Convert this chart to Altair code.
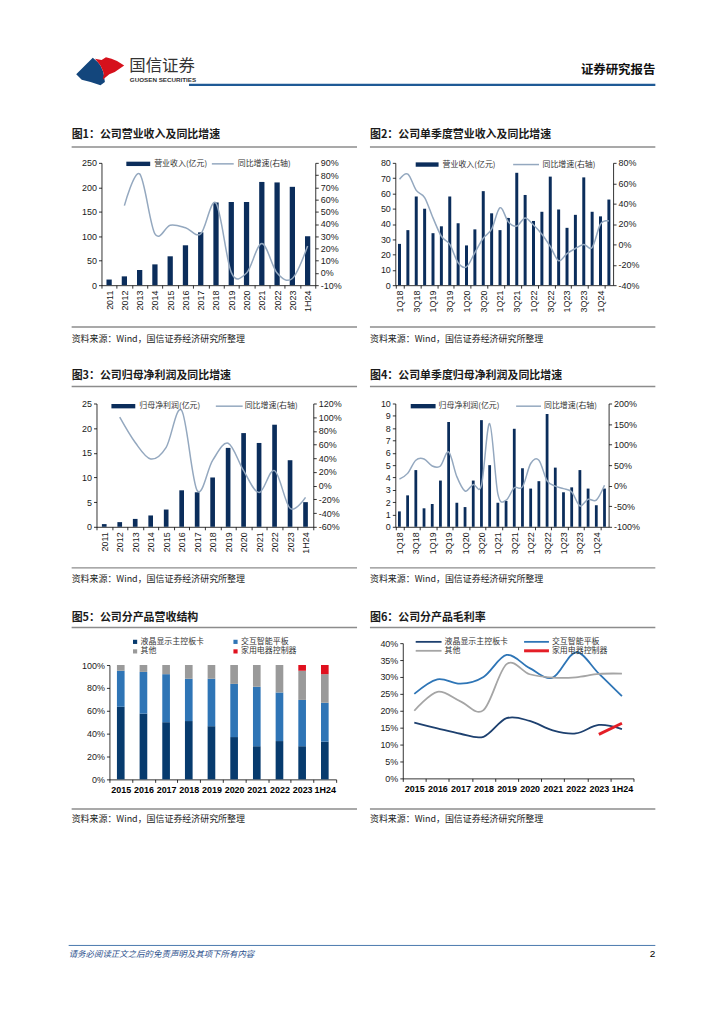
import altair as alt
import pandas as pd

# ---------------- data ----------------
years = ["2011", "2012", "2013", "2014", "2015", "2016", "2017", "2018", "2019", "2020", "2021", "2022", "2023", "1H24"]
revenue = [11.5, 18, 31, 42.5, 59, 81.5, 108, 169, 170, 170, 211, 210, 201, 100]
revenue_growth_years = ["2012", "2013", "2014", "2015", "2016", "2017", "2018", "2019", "2020", "2021", "2022", "2023", "1H24"]
revenue_growth = [55, 81, 32, 39, 37, 32, 57, 0.5, 0, 24, 0, -4.5, 22]

quarters = ["1Q18", "2Q18", "3Q18", "4Q18", "1Q19", "2Q19", "3Q19", "4Q19", "1Q20", "2Q20", "3Q20", "4Q20",
            "1Q21", "2Q21", "3Q21", "4Q21", "1Q22", "2Q22", "3Q22", "4Q22", "1Q23", "2Q23", "3Q23", "4Q23",
            "1Q24", "2Q24"]
quarter_labels = ["1Q18", "3Q18", "1Q19", "3Q19", "1Q20", "3Q20", "1Q21", "3Q21", "1Q22", "3Q22", "1Q23", "3Q23", "1Q24"]
q_revenue = [27, 36, 58, 50, 34, 38.5, 58, 40.5, 26, 36.5, 61.5, 47, 36, 44, 73.5, 59, 42, 48, 71, 49.5,
             37.5, 46, 70.5, 48, 45, 56]
q_revenue_growth = [64, 69, 53, 46, 26, 8, 0, -18, -22, -8, 6, 15, 36, 22, 18, 26, 19, 10, -2, -16,
                    -9, -4, 0, -3, 20, 23]

net_profit = [0.55, 0.95, 1.6, 2.3, 3.5, 7.4, 7.0, 10, 16, 19, 17, 20.7, 13.5, 5]
net_profit_growth_years = revenue_growth_years
net_profit_growth = [100, 63, 39, 56, 110, -7, 37, 62, 22, -10, 22, -33, -17]

q_profit = [1.25, 2.55, 4.6, 1.5, 1.85, 3.75, 8.5, 1.95, 1.6, 3.75, 8.65, 5.0, 1.95, 2.1, 7.95, 4.75,
            3.1, 3.7, 9.15, 4.8, 2.8, 3.2, 4.6, 3.1, 1.75, 3.1]
q_profit_growth = [16, 30, 62, 65, 48, 48, 82, 22, -13, 3, 1, 151, -20, -35, -5, -3, 54, 62, 12, -1,
                   -7, -15, -49, -33, -35, 1]

seg_years = ["2015", "2016", "2017", "2018", "2019", "2020", "2021", "2022", "2023", "1H24"]
seg_names = ["液晶显示主控板卡", "交互智能平板", "其他", "家用电器控制器"]
mix_lcd = [63.5, 57.5, 50, 51, 46.5, 37, 29, 33.5, 29, 33]
mix_panel = [31.5, 36.5, 42, 37, 41.5, 46.5, 52, 42.5, 40.5, 34]
mix_other = [5, 6, 8, 12, 12, 16.5, 19, 24, 25.5, 25]
mix_home = [0, 0, 0, 0, 0, 0, 0, 0, 5, 8]

gm_lcd = [16.5, 14.8, 13.2, 12.3, 17.8, 17.0, 14.2, 13.3, 15.8, 14.6]
gm_panel = [25.0, 29.3, 28.0, 30.0, 36.5, 32.6, 29.8, 37.3, 31.0, 24.3]
gm_other = [20.0, 25.6, 22.8, 20.2, 33.8, 30.8, 29.8, 29.9, 30.9, 31.0]
gm_home_years = ["2023", "1H24"]
gm_home = [13.0, 16.3]

titles = ["图1：公司营业收入及同比增速", "图2：公司单季度营业收入及同比增速",
          "图3：公司归母净利润及同比增速", "图4：公司单季度归母净利润及同比增速",
          "图5：公司分产品营收结构", "图6：公司分产品毛利率"]
source = "资料来源：Wind，国信证券经济研究所整理"

# ---------------- style ----------------
NAVY = "#0b2d5b"
LINEC = "#94a8bf"
CN = "Noto Sans CJK SC"
NUM = "Liberation Sans"
GRAYL = "#8c8c8c"
C5 = ["#073b6e", "#2f75b6", "#9a9a9a", "#e0101e"]
C6 = ["#1d406f", "#2e75b6", "#a5a5a5"]
RED6 = "#e41e26"

PW, PH = 708, 968  # whole page drawing area

ONE = pd.DataFrame({"k": [0]})


def T(x, y, s, size=9.0, color="#222", weight="normal", align="left", font=CN, italic=False):
    kw = dict(text=s, fontSize=size, color=color, fontWeight=weight, align=align, baseline="middle", font=font)
    if italic:
        kw["fontStyle"] = "italic"
    return alt.Chart(ONE).mark_text(**kw).encode(x=alt.value(x), y=alt.value(y))


def R(x1, x2, y, color, w):
    return alt.Chart(ONE).mark_rule(color=color, strokeWidth=w).encode(
        x=alt.value(x1), x2=alt.value(x2), y=alt.value(y))


def B(x1, x2, y1, y2, color):
    return alt.Chart(ONE).mark_rect(color=color).encode(
        x=alt.value(x1), x2=alt.value(x2), y=alt.value(y1), y2=alt.value(y2))


def ax(**kw):
    base = dict(title=None, grid=False, domainColor="#000", domainWidth=0.8, tickColor="#000", tickWidth=0.8,
                tickSize=3, labelFont=NUM, labelFontSize=9, labelColor="#1a1a1a", labelPadding=2)
    base.update(kw)
    return alt.Axis(**base)


layers = []


def bar_line(cats, vals, gcats, gvals, ld, lvals, rd, rvals, box, bsize, label_values, lg):
    x0, x1, ytop, ybot = box
    xband = alt.Scale(type="band", domain=cats, range=[x0, x1], paddingInner=0, paddingOuter=0)
    xpoint = alt.Scale(type="point", domain=cats, range=[x0, x1], padding=0.5)
    dfb = pd.DataFrame({"c": cats, "v": vals})
    dfl = pd.DataFrame({"c": gcats, "g": gvals})
    xkw = dict(orient="bottom", offset=ybot - PH, labelAngle=270, tickBand="extent")
    if label_values:
        xkw["values"] = label_values
    bars = alt.Chart(dfb).mark_bar(size=bsize, color=NAVY).encode(
        x=alt.X("c:N", scale=xband, axis=ax(**xkw)),
        y=alt.Y("v:Q", scale=alt.Scale(domain=ld, range=[ybot, ytop], nice=False, zero=False),
                axis=ax(orient="left", offset=-x0, values=lvals)),
    )
    line = alt.Chart(dfl).mark_line(color=LINEC, strokeWidth=1.5, interpolate="cardinal").encode(
        x=alt.X("c:N", scale=xpoint, axis=None),
        y=alt.Y("g:Q", scale=alt.Scale(domain=rd, range=[ybot, ytop], nice=False, zero=False),
                axis=ax(orient="right", offset=x1 - PW, values=rvals, labelExpr="datum.value + '%'")),
    )
    lx1, lx2, ly, t1x, t1, l2x1, l2x2, t2x, t2 = lg
    layers.extend([bars, line, B(lx1, lx2, ly - 2.2, ly + 2.2, NAVY), T(t1x, ly, t1, 8, "#333"),
                   R(l2x1, l2x2, ly, LINEC, 1.5), T(t2x, ly, t2, 8, "#333")])


bar_line(years, revenue, revenue_growth_years, revenue_growth, [0, 250], list(range(0, 251, 50)),
         [-10, 90], list(range(-10, 91, 10)), (90, 305, 153, 276), 5.3, None,
         (115, 139, 154, 143, "营业收入(亿元)", 201, 223, 227, "同比增速(右轴)"))
bar_line(quarters, q_revenue, quarters, q_revenue_growth, [0, 80], list(range(0, 81, 10)),
         [-40, 80], list(range(-40, 81, 20)), (385.5, 604.5, 153, 276), 3, quarter_labels,
         (406, 429, 154.7, 433, "营业收入(亿元)", 504, 530, 533.5, "同比增速(右轴)"))
bar_line(years, net_profit, net_profit_growth_years, net_profit_growth, [0, 25], list(range(0, 26, 5)),
         [-60, 120], list(range(-60, 121, 20)), (85, 303, 395, 519), 4.7, None,
         (100, 124, 397.7, 128, "归母净利润(亿元)", 205, 232, 234, "同比增速(右轴)"))
bar_line(quarters, q_profit, quarters, q_profit_growth, [0, 10], list(range(0, 11, 1)),
         [-100, 200], list(range(-100, 201, 50)), (385.5, 600, 395, 519), 2.8, quarter_labels,
         (401, 426, 397.7, 429, "归母净利润(亿元)", 507, 532, 535, "同比增速(右轴)"))

# ---- chart 5: stacked revenue mix ----
rows5 = []
for series_i, (name, arr) in enumerate(zip(seg_names, [mix_lcd, mix_panel, mix_other, mix_home])):
    for y, v in zip(seg_years, arr):
        if v > 0:
            rows5.append({"year": y, "cat": name, "v": v, "o": series_i})
df5 = pd.DataFrame(rows5)
x5 = alt.Scale(type="band", domain=seg_years, range=[98, 326], paddingInner=0, paddingOuter=0)
bars5 = alt.Chart(df5).mark_bar(size=7.7).encode(
    x=alt.X("year:N", scale=x5, axis=ax(orient="bottom", offset=773 - PH, labelAngle=0, tickBand="extent",
                                         labelFontWeight="bold", labelColor="#000", labelPadding=3)),
    y=alt.Y("v:Q", stack="zero", scale=alt.Scale(domain=[0, 100], range=[773, 658], nice=False),
            axis=ax(orient="left", offset=-98, values=list(range(0, 101, 20)), labelExpr="datum.value + '%'")),
    color=alt.Color("cat:N", scale=alt.Scale(domain=seg_names, range=C5), legend=None),
    order=alt.Order("o:Q", sort="ascending"),
)
layers.append(bars5)
for i, (lx, ly) in enumerate([(121.7, 634.7), (222.7, 634.7), (121.7, 644.3), (222.7, 644.3)]):
    layers.append(B(lx, lx + 4.2, ly - 2.1, ly + 2.1, C5[i]))
    layers.append(T(lx + 7.6, ly, seg_names[i], 8, "#333"))

# ---- chart 6: gross margin lines ----
rows6 = []
for name, arr in zip(seg_names[:3], [gm_lcd, gm_panel, gm_other]):
    for y, v in zip(seg_years, arr):
        rows6.append({"year": y, "cat": name, "v": v})
df6 = pd.DataFrame(rows6)
df6h = pd.DataFrame({"year": gm_home_years, "v": gm_home})
x6band = alt.Scale(type="band", domain=seg_years, range=[393, 625], paddingInner=0, paddingOuter=0)
x6 = alt.Scale(type="point", domain=seg_years, range=[393, 625], padding=0.5)
y6 = alt.Scale(domain=[0, 40], range=[772, 636], nice=False)
axis6 = alt.Chart(pd.DataFrame({"year": seg_years})).mark_tick(opacity=0).encode(
    x=alt.X("year:N", scale=x6band,
            axis=ax(orient="bottom", offset=772 - PH, labelAngle=0, tickBand="extent", labelFontWeight="bold",
                    labelColor="#000", labelPadding=3)),
    y=alt.value(700),
)
lines6 = alt.Chart(df6).mark_line(strokeWidth=1.8, interpolate="cardinal").encode(
    x=alt.X("year:N", scale=x6, axis=None),
    y=alt.Y("v:Q", scale=y6, axis=ax(orient="left", offset=-393, values=list(range(0, 41, 5)),
                                     labelExpr="datum.value + '%'")),
    color=alt.Color("cat:N", scale=alt.Scale(domain=seg_names[:3], range=C6), legend=None),
)
home6 = alt.Chart(df6h).mark_line(strokeWidth=3, color=RED6).encode(
    x=alt.X("year:N", scale=x6, axis=None),
    y=alt.Y("v:Q", scale=y6, axis=None),
)
layers.extend([axis6, lines6, home6,
               R(406, 432, 634.7, C6[0], 1.8), T(435, 634.7, seg_names[0], 8, "#333"),
               R(515, 540, 634.7, C6[1], 1.8), T(543, 634.7, seg_names[1], 8, "#333"),
               R(406, 432, 643.7, C6[2], 1.8), T(435, 643.7, seg_names[2], 8, "#333"),
               R(515, 540, 643.7, RED6, 3), T(543, 643.7, seg_names[3], 8, "#333")])

# ---------------- page furniture ----------------
navy_path = ("M -0.957 0.174 L -0.304 -0.478 L -0.1 -0.3 L 0 -0.174 L 0.1 0.05 L 0.13 0.174 L 0.174 0.478 "
             "L 0 0.609 L -0.391 0.478 L -0.739 0.391 Z")
red_path = ("M -0.217 -0.435 L 0.043 -0.391 L 0.217 -0.5 L 0.435 -0.435 L 0.652 -0.348 L 0.935 -0.174 "
            "L 0.565 0.087 L 0.348 0.174 L 0.087 0.391 L 0.13 0.174 L 0.1 0.05 L 0 -0.174 L -0.1 -0.3 Z")
layers.append(alt.Chart(ONE).mark_point(shape=navy_path, filled=True, size=2600, color="#13467c", opacity=1)
              .encode(x=alt.value(89), y=alt.value(59.5)))
layers.append(alt.Chart(ONE).mark_point(shape=red_path, filled=True, size=2600, color="#d6111c", opacity=1)
              .encode(x=alt.value(89), y=alt.value(59.5)))


def title_block(y_title, y_line, t_left, t_right):
    return [T(60, y_title, t_left, 11, "#1a1a1a", "bold"), T(360, y_title, t_right, 11, "#1a1a1a", "bold"),
            R(60, 347, y_line, GRAYL, 1.5), R(360, 647, y_line, GRAYL, 1.5)]


def source_block(y_line, y_text):
    return [R(60, 347, y_line, GRAYL, 1.5), R(360, 647, y_line, GRAYL, 1.5),
            T(60, y_text, source, 9, "#1a1a1a"), T(360, y_text, source, 9, "#1a1a1a")]


layers.extend([
    T(118, 55.5, "国信证券", 16.5, "#333"),
    T(118.5, 70, "GUOSEN SECURITIES", 6.3, "#333", "bold", font=NUM),
    R(178, 647, 74.5, "#1f5a96", 2.2),
    T(647, 60, "证券研究报告", 12.5, "#111", "bold", align="right"),
    *title_block(125, 137, titles[0], titles[1]),
    *source_block(318, 330), *title_block(367.7, 378, titles[2], titles[3]),
    *source_block(560.3, 572), *title_block(610.3, 620.3, titles[4], titles[5]),
    *source_block(802.7, 813),
    R(57, 647, 940, "#4a78ad", 1),
    T(57, 949, "请务必阅读正文之后的免责声明及其项下所有内容", 8.5, "#2b4f8c", italic=True),
    T(647, 949, "2", 10, "#000", align="right", font=NUM),
])

chart = alt.layer(*layers).resolve_scale(
    x="independent", y="independent", color="independent"
).properties(width=PW, height=PH, padding=0, background="white").configure_view(strokeWidth=0)

chart.save("out.html", embed_options={"renderer": "svg", "actions": False})
